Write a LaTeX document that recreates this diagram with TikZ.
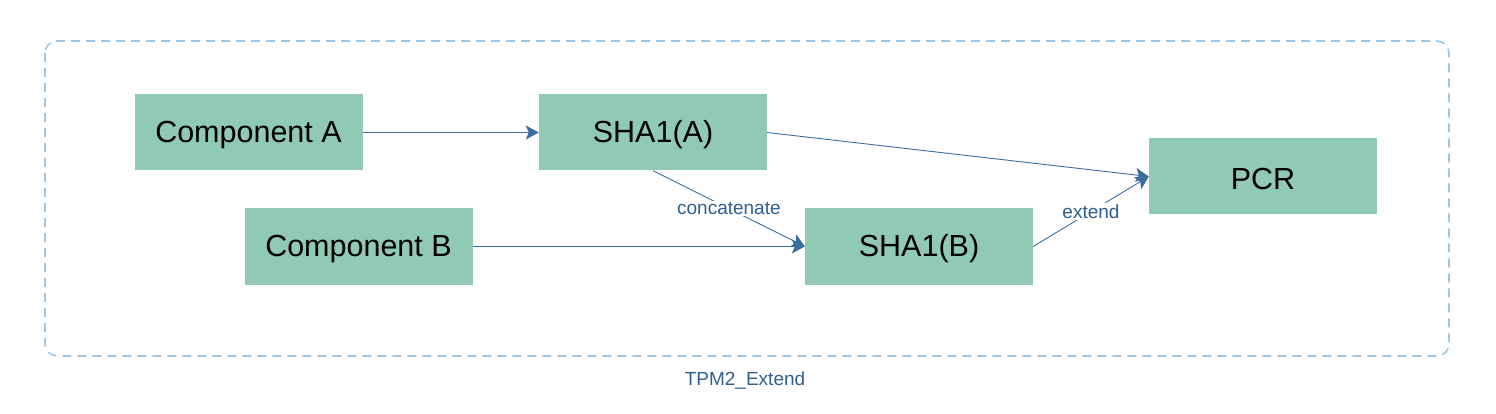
\documentclass[tikz,border=0pt]{standalone}
\usepackage{fontspec}
\setmainfont{Liberation Sans}
\usetikzlibrary{arrows.meta}
\definecolor{boxfill}{HTML}{90CAB5}
\definecolor{arrowc}{HTML}{3A6E9F}
\definecolor{textc}{HTML}{2F5F8F}
\definecolor{dashc}{HTML}{9EC6E6}
\newcommand{\boxtxt}[1]{\raisebox{-2.5pt}[\height][\depth]{#1}}
\tikzset{
  compbox/.style={fill=boxfill, draw=none, minimum width=228pt, minimum height=76pt, inner sep=0pt, font=\fontsize{30.5}{33}\selectfont, text=black},
  conn/.style={draw=arrowc, line width=0.9pt, -{Stealth[length=13pt,width=14pt,inset=3pt]}},
  lbl/.style={fill=white, inner sep=1.5pt, text=textc, font=\fontsize{19}{22}\selectfont},
}
\begin{document}
\begin{tikzpicture}[x=1pt,y=-1pt]
\useasboundingbox (0,0) rectangle (1496,414);
\draw[dashc, line width=1.6pt, dash pattern=on 9pt off 6pt, rounded corners=12pt] (45,41) rectangle (1449,356);
\node[text=textc, font=\fontsize{19}{22}\selectfont] (title) at (745,381) {TPM2\_Extend};
\node[compbox] (ca) at (248.5,132.5) {\boxtxt{Component A}};
\node[compbox] (sa) at (653,132.5) {\boxtxt{SHA1(A)}};
\node[compbox] (pcr) at (1263,176.5) {\boxtxt{PCR}};
\node[compbox] (cb) at (358.5,246.5) {\boxtxt{Component B}};
\node[compbox] (sb) at (919,246.5) {\boxtxt{SHA1(B)}};
\draw[conn] (ca.east) -- (sa.west);
\draw[conn] (cb.east) -- (sb.west);
\draw[conn] (sa.east) -- (pcr.west);
\draw[conn] (sa.south) -- node[lbl] {concatenate} (sb.west);
\draw[conn] (sb.east) -- node[lbl] {extend} (pcr.west);
\end{tikzpicture}
\end{document}
